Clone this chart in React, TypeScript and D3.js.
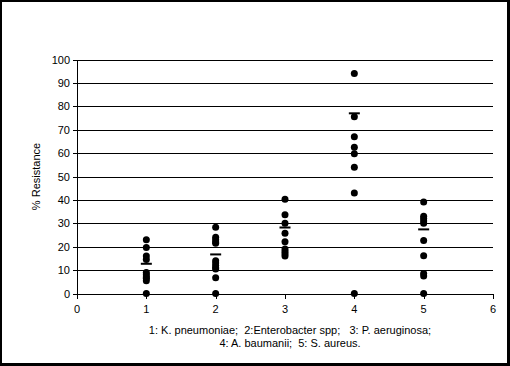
import React from "react";
import * as d3 from "d3";

const categories = [1, 2, 3, 4, 5];
const kPneumoniae = [23, 19.7, 16, 14.5, 9, 8, 7, 6.5, 5.5, 0];
const enterobacter = [28.3, 24, 23, 22, 21.5, 14, 13, 12, 11, 10.5, 6.7, 0];
const pAeruginosa = [40.3, 33.7, 30, 25.7, 22.1, 19, 18, 17, 16];
const aBaumanii = [94, 75.5, 67, 62.5, 59.7, 54, 43, 0];
const sAureus = [39.1, 33, 32, 31, 30, 22.6, 16.1, 8.5, 7.5, 0];
const seriesValues = [kPneumoniae, enterobacter, pAeruginosa, aBaumanii, sAureus];
const meanValues = [12.7, 16.7, 28.2, 77, 27.4];
const xTicks = [0, 1, 2, 3, 4, 5, 6];
const yTicks = [0, 10, 20, 30, 40, 50, 60, 70, 80, 90, 100];
const yLabel = "% Resistance";
const xLabelLines = [
  "1: K. pneumoniae;  2:Enterobacter spp;   3: P. aeruginosa;",
  "4: A. baumanii;  5: S. aureus.",
];

export default function App() {
  const W = 510;
  const H = 366;
  const left = 77;
  const right = 493;
  const top = 59.5;
  const bottom = 293.5;
  const x = d3.scaleLinear().domain([0, 6]).range([left, right]);
  const y = d3.scaleLinear().domain([0, 100]).range([bottom, top]);
  const font = "'Liberation Sans', Arial, sans-serif";

  const points: { cx: number; cy: number }[] = [];
  categories.forEach((c, i) => {
    seriesValues[i].forEach((v) => points.push({ cx: x(c), cy: y(v) }));
  });

  return (
    <svg
      width={W}
      height={H}
      style={{ position: "fixed", left: 0, top: 0, display: "block" }}
      fontFamily={font}
    >
      <rect x={0} y={0} width={W} height={H} fill="#000" />
      <rect x={2} y={2} width={W - 5} height={H - 5} fill="#fff" />
      {/* gridlines */}
      {yTicks.slice(1).map((t) => (
        <line
          key={"g" + t}
          x1={left}
          x2={right}
          y1={Math.round(y(t)) + 0.5}
          y2={Math.round(y(t)) + 0.5}
          stroke="#000"
          strokeWidth={1}
        />
      ))}
      {/* y axis */}
      <line x1={left + 0.5} x2={left + 0.5} y1={Math.round(y(100))} y2={Math.round(y(0)) + 1} stroke="#000" />
      {yTicks.map((t) => (
        <g key={"yt" + t}>
          <line
            x1={left - 4}
            x2={left}
            y1={Math.round(y(t)) + 0.5}
            y2={Math.round(y(t)) + 0.5}
            stroke="#000"
          />
          <text x={left - 7} y={y(t) + 4} textAnchor="end" fontSize={11} fill="#000">
            {t}
          </text>
        </g>
      ))}
      {/* x axis */}
      <line x1={left} x2={right} y1={Math.round(y(0)) + 0.5} y2={Math.round(y(0)) + 0.5} stroke="#000" />
      {xTicks.map((t) => (
        <g key={"xt" + t}>
          <line
            x1={Math.round(x(t)) + 0.5}
            x2={Math.round(x(t)) + 0.5}
            y1={Math.round(y(0))}
            y2={Math.round(y(0)) + 5}
            stroke="#000"
          />
          <text x={x(t)} y={313} textAnchor="middle" fontSize={11} fill="#000">
            {t}
          </text>
        </g>
      ))}
      {/* points */}
      {points.map((p, i) => (
        <circle key={"p" + i} cx={p.cx} cy={p.cy} r={3.5} fill="#000" />
      ))}
      {/* means */}
      {categories.map((c, i) => (
        <rect
          key={"m" + c}
          x={x(c) - 5.5}
          y={y(meanValues[i]) - 1}
          width={11}
          height={2}
          fill="#000"
        />
      ))}
      {/* axis labels */}
      <text
        transform={`translate(40,${(top + bottom) / 2}) rotate(-90)`}
        textAnchor="middle"
        fontSize={11}
        fill="#000"
      >
        {yLabel}
      </text>
      {xLabelLines.map((l, i) => (
        <text
          key={"xl" + i}
          x={290}
          y={334 + i * 12.5}
          textAnchor="middle"
          fontSize={11}
          fill="#000"
          style={{ whiteSpace: "pre" }}
        >
          {l}
        </text>
      ))}
    </svg>
  );
}
